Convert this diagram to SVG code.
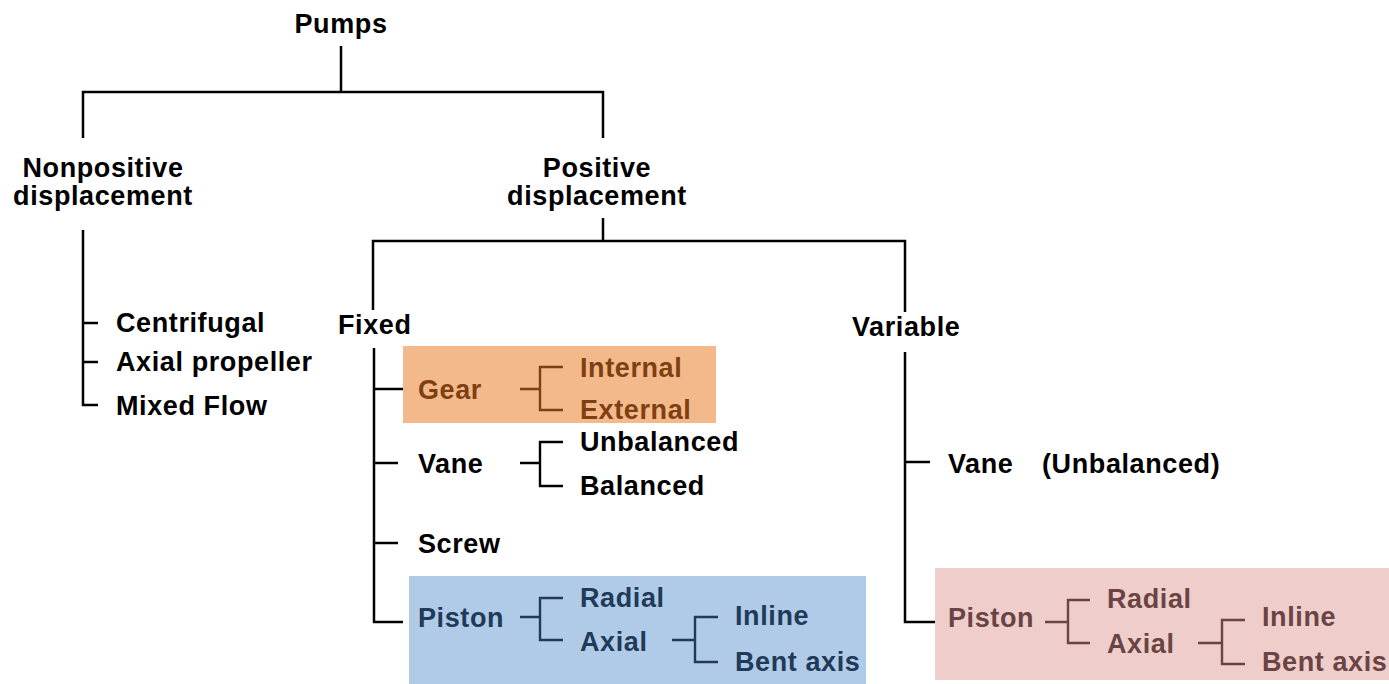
<svg xmlns="http://www.w3.org/2000/svg" width="1389" height="684" viewBox="0 0 1389 684">
<style>
text{font-family:"Liberation Sans",Arial,sans-serif;font-weight:bold;font-size:27px;letter-spacing:0.6px;fill:#000}
.c{text-anchor:middle}
.ln{fill:none;stroke:#000;stroke-width:2.5}
.br{fill:none;stroke-width:2.4}
.o text{fill:#7E3F12}
.b text{fill:#203A57}
.p text{fill:#6A4444}
</style>
<rect width="1389" height="684" fill="#fff"/>
<g id="boxes">
<rect x="403" y="346" width="313" height="77" fill="#F3B98B"/>
<rect x="409" y="576" width="457" height="108" fill="#B0CBE8"/>
<rect x="935" y="568" width="454" height="112" fill="#EECDCB"/>
</g>
<g id="connectors">
<path class="ln" d="M341 46V92M83 138V92H603V138"/>
<path class="ln" d="M603 218V241M373 310V241H905V312"/>
<path class="ln" d="M83 230V405H98M83 323H98M83 362H98"/>
<path class="ln" d="M374 348V622H403M374 389H403M374 463H398M374 543H398"/>
<path class="ln" d="M905 352V622H935M905 462H930"/>
<path class="br" stroke="#7E3F12" d="M520 389H540M563 367H540V410H563"/>
<path class="br" stroke="#000" d="M520 463H540M563 442H540V486H563"/>
<path class="br" stroke="#203A57" d="M520 617H540M563 598H540V640H563M672 640H695M718 617H695V662H718"/>
<path class="br" stroke="#6A4444" d="M1045 622H1068M1090 600H1068V643H1090M1198 643H1222M1245 620H1222V664H1245"/>
</g>
<g id="pumps"><text class="c" x="341" y="33">Pumps</text></g>
<g id="nonpositive"><text class="c" x="103" y="177">Nonpositive</text><text class="c" x="103" y="205">displacement</text></g>
<g id="positive"><text class="c" x="597" y="177">Positive</text><text class="c" x="597" y="205">displacement</text></g>
<g id="centrifugal"><text x="116" y="332">Centrifugal</text></g>
<g id="axial-propeller"><text x="116" y="371">Axial propeller</text></g>
<g id="mixed-flow"><text x="116" y="415">Mixed Flow</text></g>
<g id="fixed"><text x="338" y="334">Fixed</text></g>
<g id="variable"><text x="852" y="336">Variable</text></g>
<g id="gear" class="o"><text x="418" y="399">Gear</text><text x="580" y="377">Internal</text><text x="580" y="419">External</text></g>
<g id="vane-fixed"><text x="418" y="473">Vane</text><text x="580" y="451">Unbalanced</text><text x="580" y="495">Balanced</text></g>
<g id="screw"><text x="418" y="553">Screw</text></g>
<g id="piston-fixed" class="b"><text x="418" y="627">Piston</text><text x="580" y="607">Radial</text><text x="580" y="651">Axial</text><text x="735" y="625">Inline</text><text x="735" y="671">Bent axis</text></g>
<g id="vane-variable"><text x="948" y="473">Vane</text><text x="1042" y="473">(Unbalanced)</text></g>
<g id="piston-variable" class="p"><text x="948" y="627">Piston</text><text x="1107" y="608">Radial</text><text x="1107" y="653">Axial</text><text x="1262" y="626">Inline</text><text x="1262" y="671">Bent axis</text></g>
</svg>
